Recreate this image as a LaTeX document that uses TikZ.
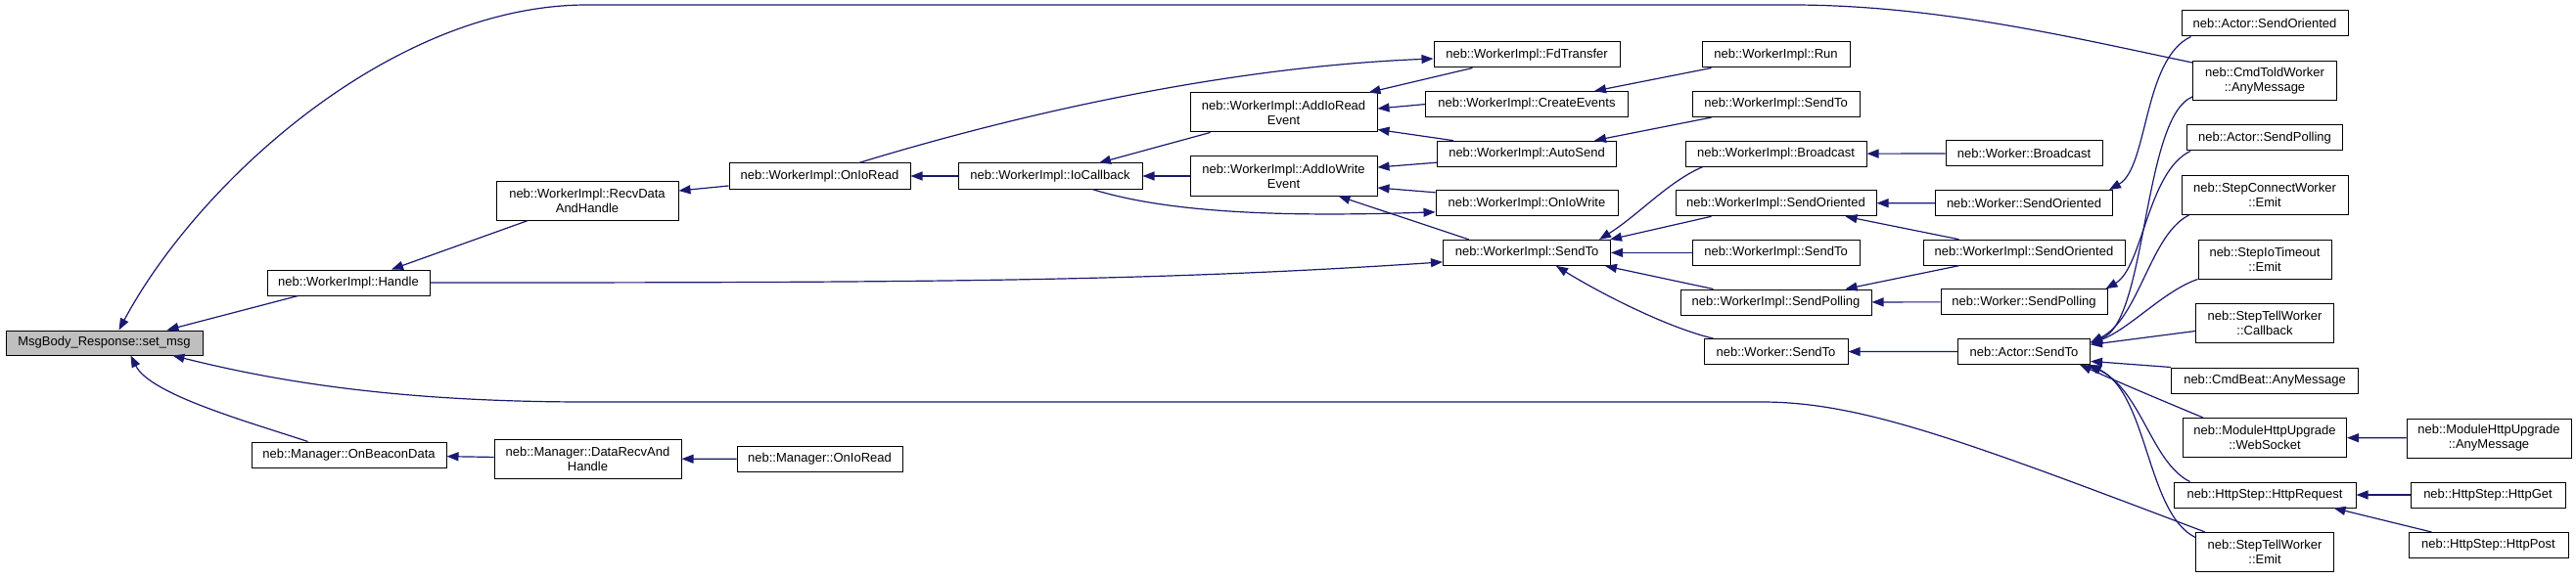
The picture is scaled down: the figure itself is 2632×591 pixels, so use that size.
\documentclass[tikz,border=0pt]{standalone}
\usepackage{fontspec}
\setmainfont{Liberation Sans}
\usepackage{tikz}
\usetikzlibrary{arrows.meta,positioning}
\definecolor{midnightblue}{RGB}{25,25,112}

\begin{document}
\begin{tikzpicture}[
  x=1pt,y=-1pt,
  func/.style={
    draw=black,
    line width=1pt,
    fill=white,
    align=center,
    inner sep=0pt,
    minimum height=26pt,
    font=\fontsize{13}{15}\selectfont
  },
  root func/.style={
    func,
    fill=black!25
  },
  two lines/.style={minimum height=40pt},
  call/.style={draw=midnightblue,line width=1.2pt,-{Triangle[length=12pt,width=9pt]}},
  node distance=23.6pt
]
  \useasboundingbox (0,0) rectangle (2632,591);

  \node[root func,minimum width=201pt,minimum height=25pt] (setmsg) at (106.5,350.5)
    {MsgBody\_Response::set\_msg};

  \node[func,minimum width=166pt] (handle) at (356,289) {neb::WorkerImpl::Handle};
  \node[func,minimum width=199pt] (onbeacon) at (356.5,465) {neb::Manager::OnBeaconData};

  \node[func,two lines,minimum width=186pt] (recvdata) at (600,205)
    {neb::WorkerImpl::RecvData\\AndHandle};
  \node[func,two lines,minimum width=191pt] (mgrrecv) at (600.5,469)
    {neb::Manager::DataRecvAnd\\Handle};

  \node[func,minimum width=185pt] (onioread) at (837.5,180) {neb::WorkerImpl::OnIoRead};
  \node[func,minimum width=169pt] (mgronioread) at (837.5,469.5) {neb::Manager::OnIoRead};

  \node[func,minimum width=188pt] (iocallback) at (1073,180) {neb::WorkerImpl::IoCallback};

  \node[func,two lines,minimum width=191pt] (addioread) at (1311.5,115)
    {neb::WorkerImpl::AddIoRead\\Event};
  \node[func,two lines,minimum width=191pt] (addiowrite) at (1311.5,180)
    {neb::WorkerImpl::AddIoWrite\\Event};

  \node[func,minimum width=190pt] (fdtransfer) at (1560,56) {neb::WorkerImpl::FdTransfer};
  \node[func,minimum width=207pt,below=of fdtransfer] (createevents) {neb::WorkerImpl::CreateEvents};
  \node[func,minimum width=183pt,below=of createevents] (autosend) {neb::WorkerImpl::AutoSend};
  \node[func,minimum width=186pt,below=of autosend] (oniowrite) {neb::WorkerImpl::OnIoWrite};
  \node[func,minimum width=171pt,below=of oniowrite] (sendto) {neb::WorkerImpl::SendTo};

  \node[func,minimum width=151pt] (run) at (1814.5,56) {neb::WorkerImpl::Run};
  \node[func,minimum width=171pt,below=of run] (sendtoB) {neb::WorkerImpl::SendTo};
  \node[func,minimum width=185pt,below=of sendtoB] (broadcast) {neb::WorkerImpl::Broadcast};
  \node[func,minimum width=205pt,below=of broadcast] (sendoriented) {neb::WorkerImpl::SendOriented};
  \node[func,minimum width=171pt,below=of sendoriented] (sendtoC) {neb::WorkerImpl::SendTo};
  \node[func,minimum width=195pt,below=of sendtoC] (sendpolling) {neb::WorkerImpl::SendPolling};
  \node[func,minimum width=147pt,below=of sendpolling] (workersendto) {neb::Worker::SendTo};

  \node[func,minimum width=160pt] (workerbroadcast) at (2068,157) {neb::Worker::Broadcast};
  \node[func,minimum width=181pt,below=of workerbroadcast] (workersendoriented) {neb::Worker::SendOriented};
  \node[func,minimum width=206pt,below=of workersendoriented] (sendorientedB) {neb::WorkerImpl::SendOriented};
  \node[func,minimum width=170pt,below=of sendorientedB] (workersendpolling) {neb::Worker::SendPolling};
  \node[func,minimum width=135pt,below=of workersendpolling] (actorsendto) {neb::Actor::SendTo};

  \node[func,minimum width=170pt] (actorsendoriented) at (2314,24) {neb::Actor::SendOriented};
  \node[func,two lines,minimum width=147pt,below=24.5pt of actorsendoriented] (cmdtold)
    {neb::CmdToldWorker\\::AnyMessage};
  \node[func,minimum width=159pt,below=24.5pt of cmdtold] (actorsendpolling) {neb::Actor::SendPolling};
  \node[func,two lines,minimum width=170pt,below=24.5pt of actorsendpolling] (stepconnect)
    {neb::StepConnectWorker\\::Emit};
  \node[func,two lines,minimum width=136pt,below=24.5pt of stepconnect] (stepiotimeout)
    {neb::StepIoTimeout\\::Emit};
  \node[func,two lines,minimum width=141pt,below=24.5pt of stepiotimeout] (steptellcb)
    {neb::StepTellWorker\\::Callback};
  \node[func,minimum width=191pt,below=24.5pt of steptellcb] (cmdbeat) {neb::CmdBeat::AnyMessage};
  \node[func,two lines,minimum width=167pt,below=24.5pt of cmdbeat] (websocket)
    {neb::ModuleHttpUpgrade\\::WebSocket};
  \node[func,minimum width=186pt,below=24.5pt of websocket] (httprequest) {neb::HttpStep::HttpRequest};
  \node[func,two lines,minimum width=141pt,below=24.5pt of httprequest] (steptellemit)
    {neb::StepTellWorker\\::Emit};

  \node[func,two lines,minimum width=168pt] (mhuanymsg) at (2543,448)
    {neb::ModuleHttpUpgrade\\::AnyMessage};
  \node[func,minimum width=158pt] (httpget) at (2542,506) {neb::HttpStep::HttpGet};
  \node[func,minimum width=163pt] (httppost) at (2542.5,557.5) {neb::HttpStep::HttpPost};

  \draw[call] ([xshift=32pt]handle.south west) -- ([xshift=64pt]setmsg.north);
  \draw[call] ([xshift=33pt]recvdata.south west) -- ([xshift=44pt]handle.north);
  \draw[call] ([yshift=-10pt]onioread.west) -- ([yshift=10pt]recvdata.east);
  \draw[call] (iocallback) -- (onioread);
  \draw[call] ([xshift=21pt]addioread.south west) -- ([xshift=50pt]iocallback.north);
  \draw[call] (addiowrite) -- (iocallback);
  \draw[call] ([xshift=40pt]fdtransfer.south west) -- ([xshift=-9pt]addioread.north east);
  \draw[call] (createevents.west) -- ([yshift=4pt]addioread.east);
  \draw[call] ([xshift=17pt]autosend.north west) -- ([yshift=3pt]addioread.south east);
  \draw[call] ([yshift=-9pt]autosend.west) -- ([yshift=9pt]addiowrite.east);
  \draw[call] ([yshift=11pt]oniowrite.west) -- ([yshift=-12pt]addiowrite.east);
  \draw[call] ([xshift=27pt]sendto.north west) -- ([xshift=-40pt]addiowrite.south east);
  \draw[call] ([xshift=10pt]run.south west) -- ([xshift=-35pt]createevents.north east);
  \draw[call] ([xshift=20pt]sendtoB.south west) -- ([xshift=-23pt]autosend.north east);
  \draw[call] ([xshift=40pt]onioread.north) .. controls +(180,-55) and +(-200,8) .. ([yshift=-4pt]fdtransfer.west);
  \draw[call] ([xshift=43pt]iocallback.south) .. controls +(80,25) and +(-150,5) .. ([yshift=-9pt]oniowrite.west);
  \draw[call] (handle.east) .. controls +(500,0) and +(-300,20) .. ([yshift=-9.5pt]sendto.west);
  \draw[call] ([yshift=-2pt]cmdtold.north west) .. controls +(-120,-25) and +(150,0) .. (1830,5)
    -- (600,5) .. controls +(-200,0) and +(80,-150) .. ([xshift=15pt]setmsg.north);
  \draw[call] ([xshift=10pt]steptellemit.north west) .. controls +(-250,-95) and +(100,0) .. (1800,411)
    -- (600,411) .. controls +(-200,0) and +(100,25) .. ([xshift=70pt]setmsg.south);
  \draw[call] ([xshift=58pt]onbeacon.north west) .. controls +(-60,-20) and +(20,40) .. ([xshift=27pt]setmsg.south);
  \draw[call] (mgrrecv) -- (onbeacon);
  \draw[call] (mgronioread) -- (mgrrecv);
  \draw[call] ([xshift=18pt]broadcast.south west) .. controls +(-35,15) and +(40,-25) .. ([xshift=-12pt]sendto.north east);
  \draw[call] ([xshift=37pt]sendoriented.south west) -- ([xshift=-1pt]sendto.north east);
  \draw[call] (sendtoC) -- (sendto);
  \draw[call] ([xshift=34pt]sendpolling.north west) -- ([xshift=-6pt]sendto.south east);
  \draw[call] ([xshift=10pt]workersendto.north west) .. controls +(-50,-12) and +(40,25) .. ([xshift=30pt]sendto.south);
  \draw[call] (workerbroadcast) -- (broadcast);
  \draw[call] (workersendoriented) -- (sendoriented);
  \draw[call] ([xshift=37pt]sendorientedB.north west) -- ([xshift=-32pt]sendoriented.south east);
  \draw[call] ([xshift=37pt]sendorientedB.south west) -- ([xshift=-27pt]sendpolling.north east);
  \draw[call] (workersendpolling) -- (sendpolling);
  \draw[call] (actorsendto) -- (workersendto);
  \draw[call] ([xshift=10pt]actorsendoriented.south west) .. controls +(-49,23) and +(40,-23) .. ([xshift=-4pt]workersendoriented.north east);
  \draw[call] ([xshift=4pt]actorsendpolling.south west) .. controls +(-44,21) and +(38,-22) .. ([xshift=-2pt]workersendpolling.north east);
  \draw[call] ([yshift=4pt]cmdtold.south west) .. controls +(-51,21) and +(58,-20) .. ([yshift=9.5pt]actorsendto.east);
  \draw[call] ([xshift=8pt]stepconnect.south west) .. controls +(-40,20) and +(50,-25) .. ([yshift=9pt]actorsendto.east);
  \draw[call] (stepiotimeout.south west) .. controls +(-35,12) and +(40,-15) .. ([yshift=8pt]actorsendto.east);
  \draw[call] ([yshift=-8pt]steptellcb.west) -- ([yshift=7pt]actorsendto.east);
  \draw[call] (cmdbeat.north west) -- ([yshift=-10pt]actorsendto.east);
  \draw[call] ([xshift=21pt]websocket.north west) .. controls +(-60,-25) and +(40,18) .. ([xshift=-11pt]actorsendto.south east);
  \draw[call] ([xshift=17pt]httprequest.north west) .. controls +(-40,-20) and +(55,25) .. ([xshift=-3pt]actorsendto.south east);
  \draw[call] ([yshift=15pt]steptellemit.west) .. controls +(-50,-25) and +(60,30) .. ([xshift=-1pt]actorsendto.south east);
  \draw[call] (mhuanymsg) -- (websocket);
  \draw[call] (httpget) -- (httprequest);
  \draw[call] ([xshift=24pt]httppost.north west) -- ([xshift=-23pt]httprequest.south east);
\end{tikzpicture}
\end{document}
